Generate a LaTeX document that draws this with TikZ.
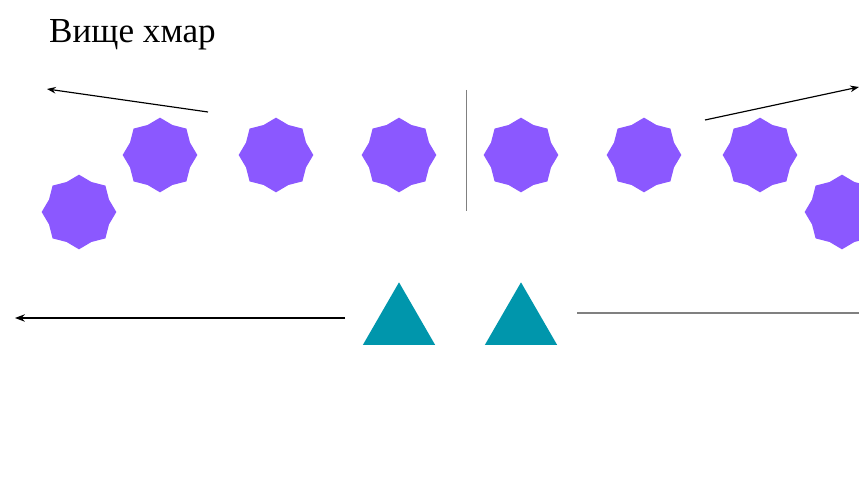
\documentclass[tikz,border=0pt]{standalone}
\usepackage{fontspec}
\setmainfont{Liberation Serif}
\usetikzlibrary{arrows.meta}
\usetikzlibrary{shapes.geometric}
\definecolor{cloudpurple}{RGB}{139,88,255}
\definecolor{peakteal}{RGB}{0,150,172}

\begin{document}
\begin{tikzpicture}[x=0.03cm, y=-0.03cm, >=Stealth,
    cloud/.style = {star, star points=8, star point ratio=1.15, fill=cloudpurple, minimum size=2.24cm, inner sep=0pt},
    peak/.style = {regular polygon, regular polygon sides=3, fill=peakteal, minimum size=2.5cm, inner sep=0pt},
    arr/.style = {->, black, line width=1pt}]
    \useasboundingbox (0,0) rectangle (859,484);

    % Nodes
    \node[anchor=base west, inner sep=0pt, font=\fontsize{30}{34}\selectfont] (title) at (49,43) {Вище хмар};

    \node[cloud] (s1) at (79,212) {};
    \node[cloud] (s2) at (160,155) {};
    \node[cloud] (s3) at (276,155) {};
    \node[cloud] (s4) at (399,155) {};
    \node[cloud] (s5) at (521,155) {};
    \node[cloud] (s6) at (644,155) {};
    \node[cloud] (s7) at (760,155) {};
    \node[cloud] (s8) at (842,212) {};

    \node[peak] (t1) at (399,324) {};
    \node[peak] (t2) at (521,324) {};

    \coordinate (tlA) at (208,112);
    \coordinate (tlB) at (47,89);
    \coordinate (trA) at (705,120);
    \coordinate (trB) at (859,87);
    \coordinate (blA) at (345,318);
    \coordinate (blB) at (15,318);
    \coordinate (brA) at (577,313);
    \coordinate (brB) at (859,313);
    \coordinate (midT) at (466,90);
    \coordinate (midB) at (466,211);

    % Edges
    \draw[arr] (tlA) -- (tlB);
    \draw[arr] (trA) -- (trB);
    \draw[arr, line width=1.2pt] (blA) -- (blB);
    \draw[gray, line width=1.1pt] (brA) -- (brB);
    \draw[gray, line width=0.8pt] (midT) -- (midB);

\end{tikzpicture}
\end{document}
